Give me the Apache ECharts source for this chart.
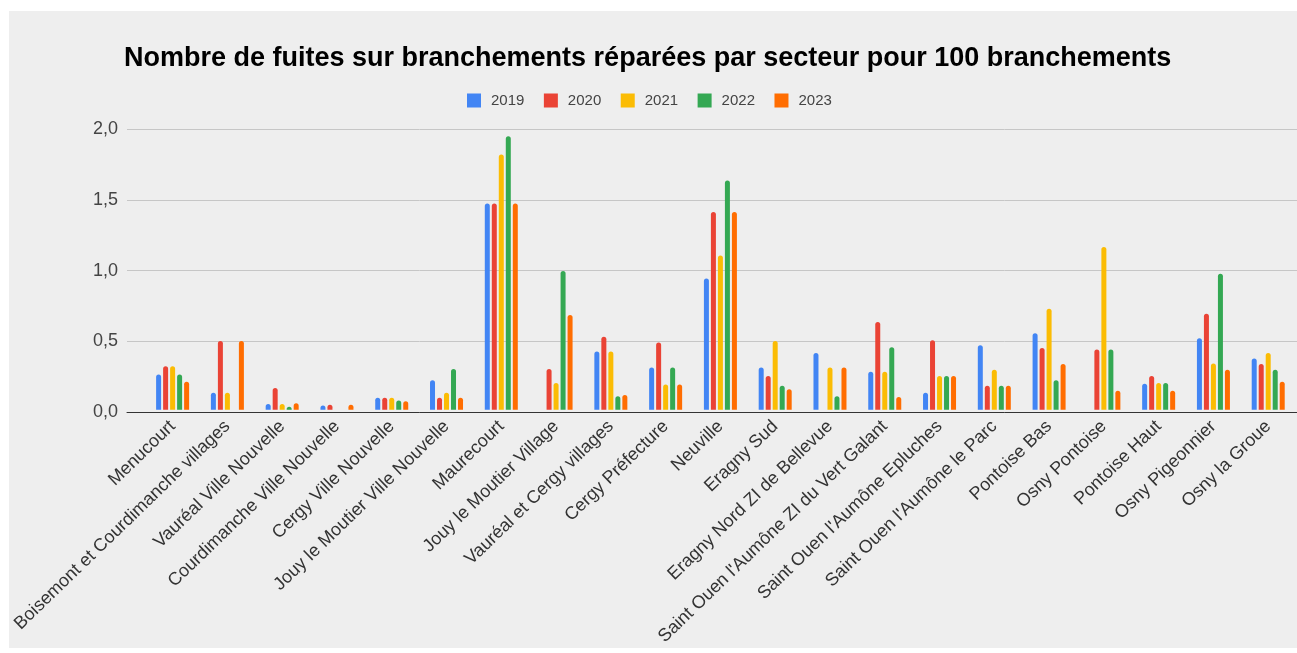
<!DOCTYPE html>
<html>
<head>
<meta charset="utf-8">
<script src="https://cdn.jsdelivr.net/npm/echarts@6/dist/echarts.min.js"></script>
<style>
  html, body { margin: 0; padding: 0; background: #ffffff; }
  #chart { position: absolute; left: 9px; top: 11px; width: 1288px; height: 637px; background: #eeeeee; }
</style>
</head>
<body>
<div id="chart"></div>
<script>
// Secteurs (axe des catégories)
const secteurs = [
  "Menucourt",
  "Boisemont et Courdimanche villages",
  "Vauréal Ville Nouvelle",
  "Courdimanche Ville Nouvelle",
  "Cergy Ville Nouvelle",
  "Jouy le Moutier Ville Nouvelle",
  "Maurecourt",
  "Jouy le Moutier Village",
  "Vauréal et Cergy villages",
  "Cergy Préfecture",
  "Neuville",
  "Eragny Sud",
  "Eragny Nord ZI de Bellevue",
  "Saint Ouen l'Aumône ZI du Vert Galant",
  "Saint Ouen l'Aumône Epluches",
  "Saint Ouen l'Aumône le Parc",
  "Pontoise Bas",
  "Osny Pontoise",
  "Pontoise Haut",
  "Osny Pigeonnier",
  "Osny la Groue"
];

const annees = ["2019", "2020", "2021", "2022", "2023"];

// Fuites réparées pour 100 branchements, par année
const v2019 = [0.25, 0.12, 0.04, 0.03, 0.085, 0.21, 1.47, 0, 0.415, 0.30, 0.935, 0.30, 0.405, 0.27, 0.12, 0.46, 0.545, 0, 0.185, 0.51, 0.365];
const v2020 = [0.31, 0.49, 0.155, 0.035, 0.085, 0.085, 1.47, 0.29, 0.52, 0.48, 1.41, 0.24, 0, 0.625, 0.495, 0.17, 0.44, 0.43, 0.24, 0.685, 0.325];
const v2021 = [0.31, 0.12, 0.04, 0, 0.085, 0.12, 1.82, 0.19, 0.415, 0.18, 1.10, 0.49, 0.30, 0.27, 0.24, 0.285, 0.72, 1.16, 0.19, 0.33, 0.405];
const v2022 = [0.25, 0, 0.02, 0, 0.065, 0.29, 1.95, 0.99, 0.095, 0.30, 1.635, 0.17, 0.095, 0.445, 0.24, 0.17, 0.21, 0.43, 0.19, 0.97, 0.285];
const v2023 = [0.20, 0.49, 0.045, 0.035, 0.06, 0.085, 1.47, 0.675, 0.105, 0.18, 1.41, 0.145, 0.30, 0.09, 0.24, 0.17, 0.325, 0.135, 0.135, 0.285, 0.20];

const valeurs = [v2019, v2020, v2021, v2022, v2023];
const couleurs = ["#4285f4", "#ea4335", "#fbbc04", "#34a853", "#ff6d01"];

// Graduations de l'axe vertical
const yMin = 0, yMax = 2, yPas = 0.5;

const police = "'Liberation Sans', Arial, sans-serif";
const fmt = v => v.toFixed(1).replace('.', ',');

const chart = echarts.init(document.getElementById('chart'), null, { renderer: 'canvas' });

const series = annees.map((a, i) => ({
  name: a,
  type: 'bar',
  xAxisIndex: 1,
  yAxisIndex: 1,
  data: valeurs[i],
  barWidth: 5,
  barGap: '40%',
  itemStyle: { color: couleurs[i], borderRadius: [2.5, 2.5, 0, 0] },
  z: 3
}));

chart.setOption({
  animation: false,
  backgroundColor: '#eeeeee',
  title: {
    text: 'Nombre de fuites sur branchements réparées par secteur pour 100 branchements',
    left: 110,
    top: 29,
    textStyle: { fontFamily: police, fontSize: 27, fontWeight: 'bold', color: '#000' }
  },
  legend: {
    data: annees,
    left: 453,
    top: 77,
    icon: 'rect',
    itemWidth: 14,
    itemHeight: 14,
    itemGap: 19.5,
    textStyle: { fontFamily: police, fontSize: 15, color: '#444', padding: [0, 0, 0, 5] }
  },
  grid: [
    // Grille de fond : lignes horizontales et libellés de l'axe vertical
    { left: 118, right: 0, top: 118.3, bottom: 236 },
    // Grille des barres
    { left: 128.4, right: 1.4, top: 118.3, bottom: 236 }
  ],
  xAxis: [
    {
      gridIndex: 0, type: 'value', min: 0, max: 1,
      axisLine: { show: true, lineStyle: { color: '#333', width: 1 } },
      axisTick: { show: false }, axisLabel: { show: false }, splitLine: { show: false }
    },
    {
      gridIndex: 1, type: 'category', data: secteurs,
      axisLine: { show: false }, axisTick: { show: false },
      axisLabel: {
        interval: 0, rotate: 44, margin: 14,
        fontFamily: police, fontSize: 18, color: '#333'
      }
    }
  ],
  yAxis: [
    {
      gridIndex: 0, type: 'value', min: yMin, max: yMax, interval: yPas,
      axisLine: { show: false }, axisTick: { show: false },
      axisLabel: { formatter: fmt, margin: 9, fontFamily: police, fontSize: 18, color: '#444' },
      splitLine: { lineStyle: { color: '#c6c6c6', width: 1 } }
    },
    {
      gridIndex: 1, type: 'value', min: yMin, max: yMax, interval: yPas,
      show: false, splitLine: { show: false }
    }
  ],
  series: series
});
</script>
</body>
</html>
